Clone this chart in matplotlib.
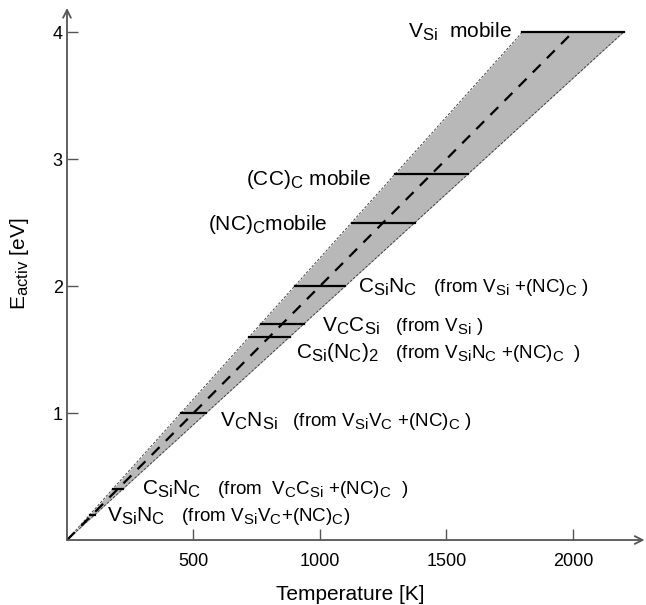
import matplotlib
matplotlib.use("Agg")
import matplotlib.pyplot as plt
import numpy as np

plt.rcParams['font.family'] = ['Liberation Sans', 'DejaVu Sans']
plt.rcParams['mathtext.fontset'] = 'custom'
plt.rcParams['mathtext.rm'] = 'Liberation Sans'
plt.rcParams['mathtext.it'] = 'Liberation Sans:italic'
plt.rcParams['mathtext.default'] = 'regular'
# slightly bigger subscripts, closer to the original figure
try:
    import matplotlib._mathtext as _mt
    _mt.SHRINK_FACTOR = 0.8
except Exception:
    pass

# band: temperature (K) reached at E = 4 eV by the lower/centre/upper bound
band_energy = [0.0, 4.0]
band_t_upper = [0.0, 1800.0]
band_t_center = [0.0, 2000.0]
band_t_lower = [0.0, 2200.0]

# activation energies (eV) of the marked processes
levels = [4.0, 2.88, 2.5, 2.0, 1.7, 1.6, 1.0, 0.4, 0.2]

labels = [
    r"V$_{Si}$  mobile",
    r"(CC)$_C$ mobile",
    r"(NC)$_C$mobile",
    r"C$_{Si}$N$_C$",
    r"V$_C$C$_{Si}$",
    r"C$_{Si}$(N$_C$)$_2$",
    r"V$_C$N$_{Si}$",
    r"C$_{Si}$N$_C$",
    r"V$_{Si}$N$_C$",
]
notes = [
    "",
    "",
    "",
    r"(from V$_{Si}$ +(NC)$_C$ )",
    r"(from V$_{Si}$ )",
    r"(from V$_{Si}$N$_C$ +(NC)$_C$  )",
    r"(from V$_{Si}$V$_C$ +(NC)$_C$ )",
    r"(from  V$_C$C$_{Si}$ +(NC)$_C$  )",
    r"(from V$_{Si}$V$_C$+(NC)$_C$)",
]
# label anchor (T, E) for each level
label_t = [1760, 709, 559, 1152, 1010, 907, 603, 298, 160]
label_e = [3.953, 2.795, 2.44, 1.945, 1.638, 1.433, 0.89, 0.354, 0.142]

xticks = [500, 1000, 1500, 2000]
yticks = [1, 2, 3, 4]

fig = plt.figure(figsize=(6.46, 6.05), dpi=100)
ax = fig.add_axes([0.1037, 0.1074, 0.894, 0.8794])
ax.set_xlim(0, 2283)
ax.set_ylim(0, 4.19)

ax.fill_betweenx(band_energy, band_t_upper, band_t_lower, color='#b8b8b8', lw=0, zorder=1)
ax.plot(band_t_upper, band_energy, color='#333333', lw=0.6, ls=(0, (3, 2)), zorder=2)
ax.plot(band_t_lower, band_energy, color='#333333', lw=0.6, ls=(0, (3, 2)), zorder=2)
ax.plot(band_t_center, band_energy, color='black', lw=1.6, ls=(0, (5, 4)), zorder=3)

slope_up = band_t_upper[1] / band_energy[1]
slope_lo = band_t_lower[1] / band_energy[1]
for e in levels:
    ax.plot([e * slope_up, e * slope_lo], [e, e], color='black', lw=1.6, zorder=4)

for i, lab in enumerate(labels):
    if i == 0:
        ax.text(label_t[i], label_e[i], lab, ha='right', va='baseline', fontsize=15)
        continue
    t = ax.text(label_t[i], label_e[i], lab, ha='left', va='baseline', fontsize=15)
    if notes[i]:
        ax.annotate("   " + notes[i], xy=(1, 0), xycoords=t, ha='left', va='bottom',
                    fontsize=13.5)

for s in ['top', 'right', 'left', 'bottom']:
    ax.spines[s].set_visible(False)
ax.annotate('', xy=(1.0, 0), xytext=(0, 0), xycoords='axes fraction',
            arrowprops=dict(arrowstyle='->', color='#555555', lw=1.3,
                            mutation_scale=14, shrinkA=0, shrinkB=0))
ax.annotate('', xy=(0, 1.0), xytext=(0, 0), xycoords='axes fraction',
            arrowprops=dict(arrowstyle='->', color='#555555', lw=1.3,
                            mutation_scale=14, shrinkA=0, shrinkB=0))

ax.set_xticks(xticks)
ax.set_yticks(yticks)
ax.tick_params(axis='both', direction='in', length=8, width=1, color='#555555',
               labelsize=13)
ax.tick_params(axis='x', pad=9)
ax.tick_params(axis='y', pad=3)

ax.set_xlabel("Temperature [K]", fontsize=15)
ax.set_ylabel(r"E$_{activ}$ [eV]", fontsize=15)
ax.xaxis.set_label_coords(0.49, -0.085)
ax.yaxis.set_label_coords(-0.062, 0.52)

fig.savefig("out.png", dpi=100)
